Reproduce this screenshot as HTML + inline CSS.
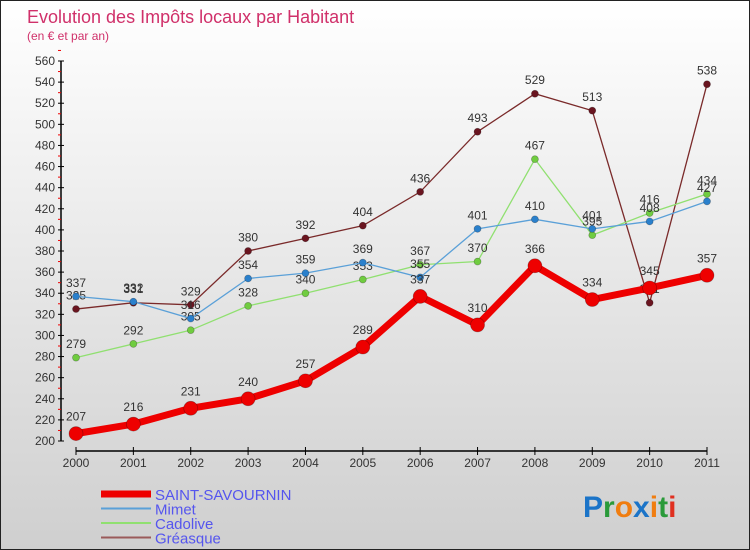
<!DOCTYPE html>
<html><head><meta charset="utf-8"><style>
body{margin:0}
#c{width:750px;height:550px;position:relative;background:linear-gradient(#ffffff,#cfcfcf);font-family:"Liberation Sans",sans-serif;overflow:hidden;box-sizing:border-box;border:1px solid #222}
</style></head><body>
<div id="c">
<svg id="s" width="750" height="550" style="position:absolute;left:0;top:0">
<text x="26" y="22" font-size="18" fill="#d0306a">Evolution des Impôts locaux par Habitant</text>
<text x="26" y="39" font-size="12" fill="#d0306a">(en € et par an)</text>
<g id="axes"></g><g id="series"></g><g id="legend"></g>
<text x="582" y="516" font-size="30" font-weight="bold"><tspan fill="#1b74c8">P</tspan><tspan fill="#2a9a3a">r</tspan><tspan fill="#f07d10">o</tspan><tspan fill="#1b74c8">x</tspan><tspan fill="#f07d10">i</tspan><tspan fill="#2a9a3a">t</tspan><tspan fill="#e03020">i</tspan></text>
</svg>
</div>
<script>
const years=["2000","2001","2002","2003","2004","2005","2006","2007","2008","2009","2010","2011"];
const yTicks=[200,220,240,260,280,300,320,340,360,380,400,420,440,460,480,500,520,540,560];
const saintSavournin=[207,216,231,240,257,289,337,310,366,334,345,357];
const mimet=[337,332,316,354,359,369,355,401,410,401,408,427];
const cadolive=[279,292,305,328,340,353,367,370,467,395,416,434];
const greasque=[325,331,329,380,392,404,436,493,529,513,331,538];
const NS="http://www.w3.org/2000/svg";
function X(i){return 75+i*(706-75)/11;}
function Y(v){return 440-(v-200)*(380/360);}
function mk(t,a,p){const e=document.createElementNS(NS,t);for(const k in a)e.setAttribute(k,a[k]);p.appendChild(e);return e;}
const ax=document.getElementById('axes');
let yl=mk('line',{x1:60,y1:Y(560),x2:60,y2:Y(200),stroke:'#000','stroke-width':1.5},ax);

yTicks.forEach(v=>{mk('line',{x1:57,y1:Y(v),x2:63,y2:Y(v),stroke:'#000'},ax);
 mk('line',{x1:57,y1:Y(v+10),x2:60,y2:Y(v+10),stroke:'#e00'},ax);
 const t=mk('text',{x:54,y:Y(v)+4,'font-size':12,'text-anchor':'end',fill:'#333'},ax);t.textContent=v;
 });
let xl=mk('line',{x1:75,y1:450,x2:706,y2:450,stroke:'#000','stroke-width':1.5},ax);

years.forEach((y,i)=>{mk('line',{x1:X(i),y1:446,x2:X(i),y2:454,stroke:'#000'},ax);
 const t=mk('text',{x:X(i),y:466,'font-size':12,'text-anchor':'middle',fill:'#333'},ax);t.textContent=y;
 });
const sg=document.getElementById('series');
const defs=[["greasque",greasque,"#7a2a2a","#6a1520",1.3,3.5],["cadolive",cadolive,"#90e070","#70cc40",1.3,3.5],["mimet",mimet,"#5aa0d8","#2a80cc",1.3,3.5],["saint-savournin",saintSavournin,"#ee0000","#ee0000",7,7]];
defs.forEach(([n,d,lc,pc,w,r])=>{
 const g=mk('g',{},sg);
 mk('polyline',{points:d.map((v,i)=>X(i)+','+Y(v)).join(' '),fill:'none',stroke:lc,'stroke-width':w},g);
 d.forEach((v,i)=>{const c=mk('circle',{cx:X(i),cy:Y(v),r:r,fill:pc,stroke:'rgba(0,0,0,0.3)','stroke-width':0.7},g);
  
  const t=mk('text',{x:X(i),y:Y(v)-(r+6),'font-size':12,'text-anchor':'middle',fill:'#333'},g);t.textContent=v;
  });
});
const lg=document.getElementById('legend');
[["SAINT-SAVOURNIN","#ee0000",7],["Mimet","#5aa0d8",2],["Cadolive","#90e070",2],["Gréasque","#9a5a5a",2]].forEach(([n,c,w],i)=>{
 const y=493+i*14.5;
 const g=mk('g',{},lg);
 mk('line',{x1:100,y1:y,x2:150,y2:y,stroke:c,'stroke-width':w},g);
 const t=mk('text',{x:154,y:y+6,'font-size':15,fill:'#5555ee'},g);t.textContent=n;
});
</script>
</body></html>
